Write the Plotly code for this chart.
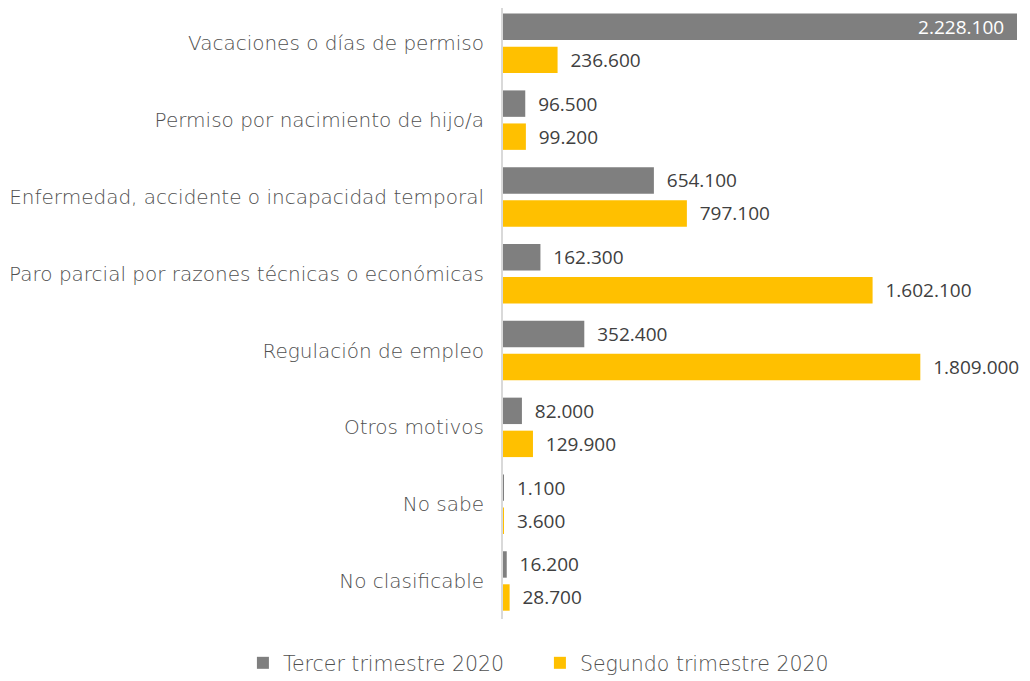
import plotly.graph_objects as go

categories = [
    "Vacaciones o días de permiso",
    "Permiso por nacimiento de hijo/a",
    "Enfermedad, accidente o incapacidad temporal",
    "Paro parcial por razones técnicas o económicas",
    "Regulación de empleo",
    "Otros motivos",
    "No sabe",
    "No clasificable",
]
tercer = [2228100, 96500, 654100, 162300, 352400, 82000, 1100, 16200]
segundo = [236600, 99200, 797100, 1602100, 1809000, 129900, 3600, 28700]
series_names = ["Tercer trimestre 2020", "Segundo trimestre 2020"]
colors = ["#7f7f7f", "#ffc000"]


def fmt(v):
    return f"{v:,}".replace(",", ".")


def labels(vals, inside_idx=None):
    out = []
    for i, v in enumerate(vals):
        if i == inside_idx:
            out.append(fmt(v) + "\u00a0\u00a0")
        else:
            out.append("\u00a0\u00a0" + fmt(v))
    return out


fig = go.Figure()
for name, vals, col, inside in [
    (series_names[0], tercer, colors[0], 0),
    (series_names[1], segundo, colors[1], None),
]:
    pos = ["inside" if i == inside else "outside" for i in range(len(vals))]
    tcol = ["#ffffff" if i == inside else "#404040" for i in range(len(vals))]
    fig.add_trace(go.Bar(
        y=categories, x=vals, name=name, orientation="h",
        marker=dict(color=col, line=dict(width=0)),
        text=labels(vals, inside), textposition=pos,
        insidetextanchor="end",
        textfont=dict(family="Open Sans", size=19, color=tcol),
        cliponaxis=False, constraintext="none",
    ))

fig.update_layout(
    width=1030, height=681,
    paper_bgcolor="white", plot_bgcolor="white",
    barmode="group", bargap=0.14, bargroupgap=0.2,
    margin=dict(l=495, r=21, t=0, b=70, autoexpand=False),
    showlegend=True,
    legend=dict(orientation="h",
                x=-0.506, xanchor="left", y=-0.072, yanchor="middle",
                entrywidth=252, entrywidthmode="pixels",
                font=dict(family="DejaVu Sans", size=20.5, color="#505050", weight=300),
                traceorder="normal"),
    xaxis=dict(range=[0, 2228100], visible=False, showgrid=False),
    yaxis=dict(range=[7.495, -0.46], showline=True, linecolor="#d9d9d9", linewidth=2,
               ticks="", ticklabelstandoff=13, automargin=False,
               tickfont=dict(family="DejaVu Sans", size=20, color="#505050", weight=300)),
)
fig.write_html("out.html")
